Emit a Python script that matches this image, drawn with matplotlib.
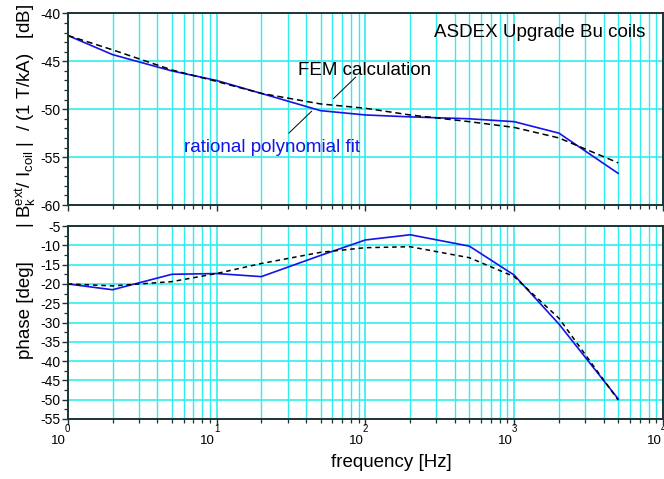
import numpy as np
import matplotlib
matplotlib.use('Agg')
import matplotlib.pyplot as plt
from matplotlib.ticker import FixedLocator, MultipleLocator, NullFormatter

plt.rcParams['font.family'] = ['Liberation Sans', 'DejaVu Sans']
plt.rcParams['mathtext.fontset'] = 'custom'
plt.rcParams['mathtext.rm'] = 'Liberation Sans'
plt.rcParams['mathtext.it'] = 'Liberation Sans:italic'
plt.rcParams['axes.unicode_minus'] = False

# data
freq = [1, 2, 5, 10, 20, 50, 100, 200, 500, 1000, 2000, 5000]
amp_fem = [-42.3, -43.8, -45.9, -47.1, -48.35, -49.45, -49.9, -50.6, -51.3, -51.9, -53.0, -55.6]
amp_fit = [-42.3, -44.3, -46.0, -47.0, -48.35, -50.15, -50.6, -50.8, -51.0, -51.3, -52.5, -56.7]
ph_fem = [-20.0, -20.5, -19.4, -17.3, -14.7, -11.8, -10.6, -10.35, -13.2, -18.1, -28.9, -50.1]
ph_fit = [-20.0, -21.5, -17.5, -17.3, -18.1, -12.6, -8.6, -7.25, -10.2, -17.7, -30.4, -49.8]

grid_c = '#30eeee'
spine_c = '#1c3434'
blue = '#1414e6'

fig = plt.figure(figsize=(6.64, 4.79), dpi=100)
ax1 = fig.add_axes([0.102, 0.572, 0.8965, 0.400])
ax2 = fig.add_axes([0.102, 0.1253, 0.8965, 0.4027])

decades = [1, 10, 100, 1000, 10000]
minors = [m * d for d in decades[:-1] for m in range(2, 10)]

for ax in (ax1, ax2):
    ax.set_xscale('log')
    ax.set_xlim(1, 1e4)
    ax.xaxis.set_major_locator(FixedLocator(decades))
    ax.xaxis.set_minor_locator(FixedLocator(minors))
    ax.xaxis.set_major_formatter(NullFormatter())
    ax.xaxis.set_minor_formatter(NullFormatter())
    ax.grid(True, which='major', color=grid_c, lw=1.2)
    ax.grid(True, which='minor', axis='x', color=grid_c, lw=1.0)
    ax.set_axisbelow(True)
    for s in ax.spines.values():
        s.set_color(spine_c)
        s.set_linewidth(1.4)
    ax.tick_params(which='both', direction='out', color=spine_c, labelsize=10,
                   top=False, right=False, pad=1)
    ax.tick_params(which='major', length=4, width=1.0)
    ax.tick_params(which='minor', length=3, width=0.9)

ax1.plot(freq, amp_fit, color=blue, lw=1.2)
ax1.plot(freq, amp_fem, color='black', lw=1.1, ls=(0, (4, 2.5)))
ax1.set_ylim(-60, -40)
ax1.yaxis.set_major_locator(MultipleLocator(5))
ax1.yaxis.set_minor_locator(MultipleLocator(1))

ax2.plot(freq, ph_fit, color=blue, lw=1.2)
ax2.plot(freq, ph_fem, color='black', lw=1.1, ls=(0, (3, 2.5)))
ax2.set_ylim(-55, -5)
ax2.yaxis.set_major_locator(MultipleLocator(5))
ax2.yaxis.set_minor_locator(MultipleLocator(2.5))

# x tick labels in the "10 with raised exponent" style
for k, d in enumerate(decades):
    ax2.annotate(str(k), xy=(d, 0), xycoords=('data', 'axes fraction'),
                 xytext=(0, -7), textcoords='offset points',
                 ha='center', va='center', fontsize=7)
    ax2.annotate('10', xy=(d, 0), xycoords=('data', 'axes fraction'),
                 xytext=(-6.5, -16), textcoords='offset points',
                 ha='center', va='center', fontsize=9.5)

ax1.text(0.97, 0.902, 'ASDEX Upgrade Bu coils', transform=ax1.transAxes,
         ha='right', va='center', fontsize=13.5)
ax1.text(0.4986, 0.704, 'FEM calculation', transform=ax1.transAxes,
         ha='center', va='center', fontsize=13.5)
ax1.text(0.343, 0.3026, 'rational polynomial fit', transform=ax1.transAxes,
         ha='center', va='center', fontsize=13.5, color=blue)
ax1.annotate('', xy=(61, -48.9), xytext=(86, -46.65),
             arrowprops=dict(arrowstyle='-', color='black', lw=0.7,
                             shrinkA=0, shrinkB=0))
ax1.annotate('', xy=(43.6, -50.2), xytext=(30.6, -52.5),
             arrowprops=dict(arrowstyle='-', color='black', lw=0.7,
                             shrinkA=0, shrinkB=0))

fig.text(0.038, 0.758,
         r'| B$_\mathrm{k}^\mathrm{ext}$/ I$_\mathrm{coil}$ |  / (1 T/kA)   [dB]',
         rotation=90, ha='center', va='center', fontsize=13.5)
fig.text(0.038, 0.353, 'phase [deg]', rotation=90, ha='center', va='center',
         fontsize=13.5)
fig.text(0.589, 0.035, 'frequency [Hz]', ha='center', va='center', fontsize=13.5)

fig.savefig('out.png', dpi=100)
